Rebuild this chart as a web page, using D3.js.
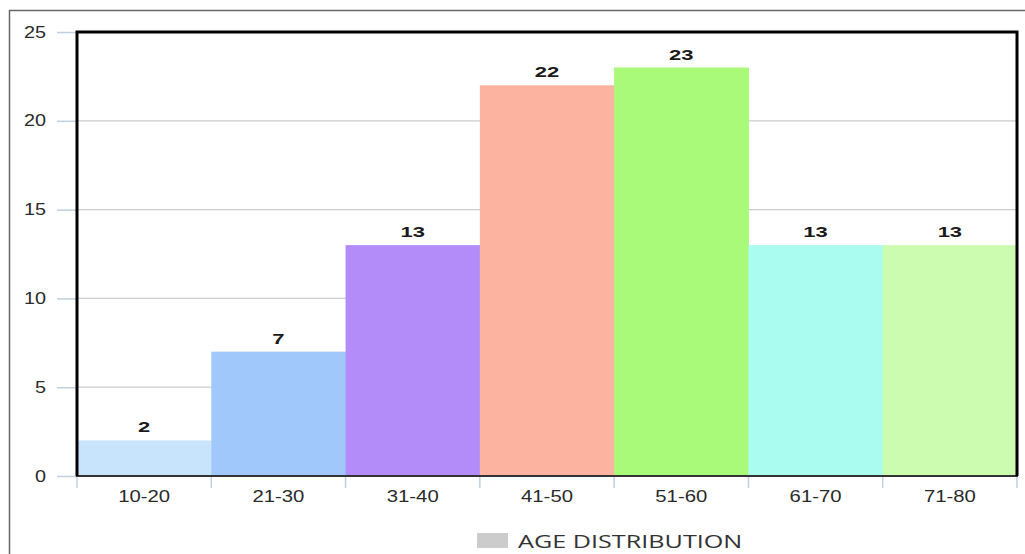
<!DOCTYPE html>
<html><head><meta charset="utf-8">
<script src="https://cdn.jsdelivr.net/npm/d3@7"></script>
<style>body{margin:0;background:#fff;}svg{display:block;}</style>
</head><body>
<svg id="c" width="1025" height="554"></svg>
<script>
const categories = ["10-20","21-30","31-40","41-50","51-60","61-70","71-80"];
const values = [2,7,13,22,23,13,13];
const colors = ["#c8e4fc","#a0c8fa","#b48cfa","#fcb4a0","#a8fa78","#aafcf0","#ccfcb0"];
const yTicks = [0,5,10,15,20,25];
const legendLabel = "AGE DISTRIBUTION";

const FONT = "Liberation Sans, Arial, sans-serif";
const svg = d3.select("#c");
// outer frame
svg.append("rect").attr("x",9.5).attr("y",10.5).attr("width",1030).attr("height",560)
  .attr("fill","none").attr("stroke","#666").attr("stroke-width",1.5);

const m = {l:77, t:32, r:1017, b:476};
const x = d3.scaleBand().domain(categories).range([m.l,m.r]).padding(0);
const y = d3.scaleLinear().domain([0,25]).range([m.b,m.t]);

// gridlines
svg.append("g").selectAll("line").data(yTicks.slice(1)).join("line")
  .attr("x1",m.l).attr("x2",m.r).attr("y1",d=>y(d)).attr("y2",d=>y(d))
  .attr("stroke","#ccc").attr("stroke-width",1.2);

// bars
svg.append("g").selectAll("rect").data(values).join("rect")
  .attr("x",(d,i)=>x(categories[i])).attr("width",x.bandwidth()+0.5)
  .attr("y",d=>y(d)).attr("height",d=>y(0)-y(d))
  .attr("fill",(d,i)=>colors[i]);

// value labels (horizontally stretched like the reference)
svg.append("g").selectAll("text").data(values).join("text")
  .attr("transform",(d,i)=>`translate(${x(categories[i])+x.bandwidth()/2},${y(d)-8}) scale(1.42,1)`)
  .attr("text-anchor","middle").attr("font-family",FONT)
  .attr("font-weight","bold").attr("font-size",15.5).attr("fill","#1a1a1a").text(d=>d);

// y axis
const yAxis = d3.axisLeft(y).tickValues(yTicks).tickSize(20).tickPadding(12);
const ga = svg.append("g").attr("transform",`translate(${m.l},0)`).call(yAxis);
ga.select(".domain").remove();
ga.selectAll("line").attr("stroke","#c0d0e0").attr("stroke-width",1.5);
ga.selectAll("text").attr("x",null).attr("transform","translate(-31,0) scale(1.24,1)")
  .attr("font-family",FONT).attr("font-size",16).attr("fill","#2a2a2a");

// x axis
const xb = d3.scaleLinear().domain([0,categories.length]).range([m.l,m.r]);
const gx = svg.append("g").attr("transform",`translate(0,${m.b})`);
gx.selectAll("line").data(d3.range(categories.length+1)).join("line")
  .attr("x1",d=>xb(d)).attr("x2",d=>xb(d)).attr("y1",0).attr("y2",12)
  .attr("stroke","#c0d0e0").attr("stroke-width",1.5);
const xAxis = d3.axisBottom(x).tickSize(0).tickPadding(15);
const gxa = svg.append("g").attr("transform",`translate(0,${m.b})`).call(xAxis);
gxa.select(".domain").remove();
gxa.selectAll("text").attr("transform","scale(1.27,1)")
  .attr("font-family",FONT).attr("font-size",16).attr("fill","#2a2a2a");

// plot frame
svg.append("line").attr("x1",m.l-1).attr("x2",m.r+1).attr("y1",m.b).attr("y2",m.b).attr("stroke","#333").attr("stroke-width",2);
svg.append("path").attr("d",`M${m.l},${m.b}V${m.t}H${m.r}V${m.b}`)
  .attr("fill","none").attr("stroke","#000").attr("stroke-width",3);

// legend
const lg = svg.append("g");
lg.append("rect").attr("x",477).attr("y",533).attr("width",31).attr("height",15).attr("fill","#cccccc");
lg.append("text").attr("transform","translate(518,548) scale(1.4,1)").attr("font-family","Open Sans, sans-serif")
  .attr("font-size",18).attr("fill","#333").text(legendLabel);
</script>
</body></html>
